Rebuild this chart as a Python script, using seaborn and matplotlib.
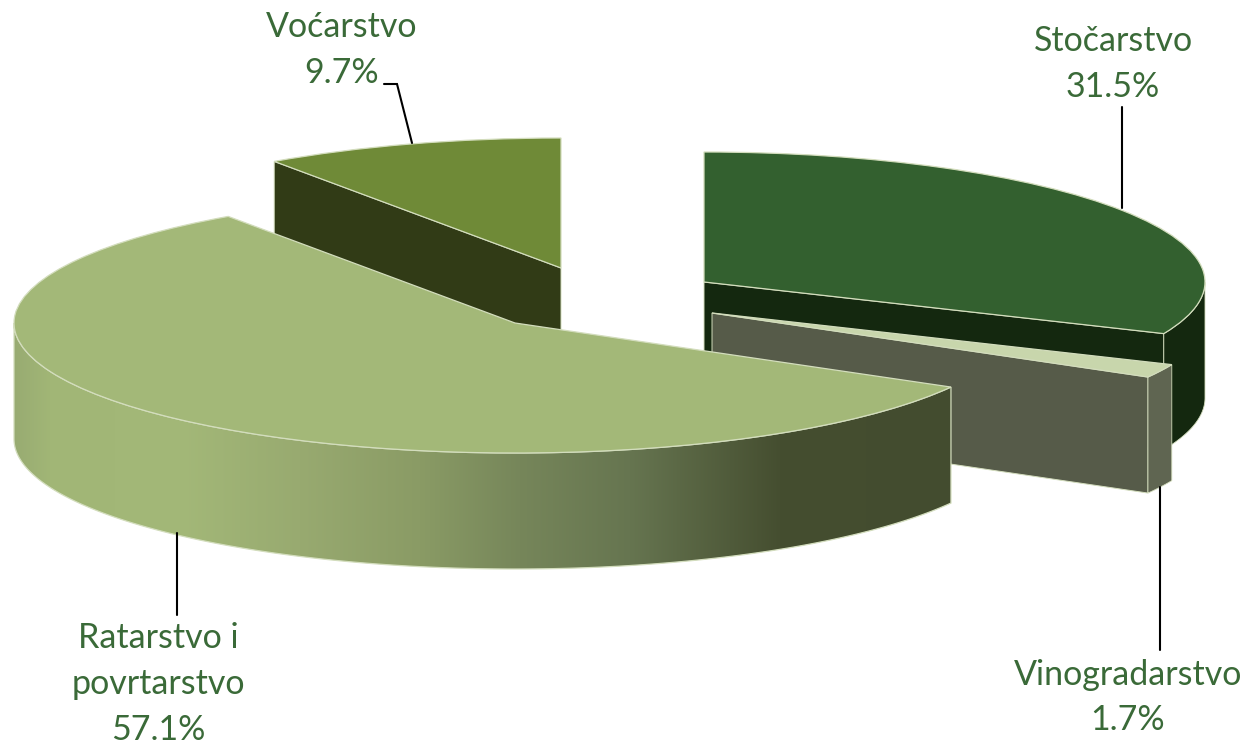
import numpy as np
import matplotlib
matplotlib.use("Agg")
import matplotlib.pyplot as plt
from matplotlib.colors import to_rgb
from matplotlib.patches import Polygon
from matplotlib.transforms import Affine2D
import seaborn as sns

# --- data ---
categories = ["Stočarstvo", "Vinogradarstvo", "Ratarstvo i\npovrtarstvo", "Voćarstvo"]
values = [31.5, 1.7, 57.1, 9.7]
value_labels = ["31.5%", "1.7%", "57.1%", "9.7%"]

# --- style ---
top_colors = ["#33602F", "#C8D6AC", "#A3B878", "#6F8A37"]
radial_colors = ["#14280F", "#565B49", "#444D30", "#313B16"]
outer_colors = ["#14280F", "#5F6551", None, "#313B16"]
centers = [(704, 282), (712, 313), (515, 323), (561, 268)]
RX, RY, DEPTH = 501, 130, 116
EDGE = "#D3DDBD"
TEXT = "#3A6A38"
grad_x = [13, 50, 180, 300, 420, 520, 630, 780, 952]
grad_c = ["#98AB72", "#A1B676", "#A3B878", "#98AA70", "#8A9B65", "#76865A", "#667550", "#454E30", "#434C2F"]
label_pos = [(1113, 41), (1128, 675), (158, 638), (342, 27)]
value_pos = [(1113, 87), (1128, 720), (158, 730), (342, 73)]
leaders = [([1122, 1122], [107, 208]),
           ([1160, 1160], [487, 650]),
           ([177, 177], [533, 615]),
           ([384, 397, 412], [84, 84, 143])]

sns.set_theme(style="white")
plt.rcParams["font.family"] = ["Lato", "DejaVu Sans"]

fig = plt.figure(figsize=(12.48, 7.44), dpi=100, facecolor="white")
ax = fig.add_axes([0, 0, 1, 1])

wedges, _ = ax.pie(values, colors=top_colors, startangle=90, counterclock=False,
                   wedgeprops=dict(edgecolor=EDGE, linewidth=0.9))
ax.set_aspect("auto")
ax.set_xlim(0, 1248)
ax.set_ylim(744, 0)
ax.axis("off")


def rim(cx, cy, th):
    t = np.radians(th)
    return cx + RX * np.cos(t), cy - RY * np.sin(t)


grad_rgb = np.array([to_rgb(c) for c in grad_c])
for i, w in enumerate(wedges):
    cx, cy = centers[i]
    base = 10 * (i == 3) + 20 * (i == 0) + 30 * (i == 1) + 40 * (i == 2)
    w.set_transform(Affine2D().scale(RX, -RY).translate(cx, cy) + ax.transData)
    w.set_zorder(base + 3)
    th1, th2 = w.theta1, w.theta2

    # radial cut faces turned towards the viewer
    faces = []
    if np.sin(np.radians(th1 - 90)) < -1e-6:
        faces.append(th1)
    if np.sin(np.radians(th2 + 90)) < -1e-6:
        faces.append(th2)
    for th in faces:
        x, y = rim(cx, cy, th)
        ax.add_patch(Polygon([(cx, cy), (x, y), (x, y + DEPTH), (cx, cy + DEPTH)],
                             closed=True, facecolor=radial_colors[i], edgecolor=EDGE,
                             linewidth=0.7, zorder=base + 1))

    # outer rim wall, front half only
    ts = np.linspace(th1, th2, 400)
    ts = ts[np.sin(np.radians(ts)) <= 0]
    if ts.size:
        xs, ys = rim(cx, cy, ts)
        verts = np.r_[np.c_[xs, ys], np.c_[xs, ys + DEPTH][::-1]]
        if outer_colors[i] is not None:
            ax.add_patch(Polygon(verts, closed=True, facecolor=outer_colors[i],
                                 edgecolor=EDGE, linewidth=0.6, zorder=base + 2))
        else:
            poly = Polygon(verts, closed=True, facecolor="none", edgecolor=EDGE,
                           linewidth=0.9, zorder=base + 2)
            ax.add_patch(poly)
            gx = np.arange(0, 1248)
            grad = np.stack([np.interp(gx, grad_x, grad_rgb[:, k]) for k in range(3)], axis=-1)[None, :, :]
            im = ax.imshow(grad, extent=(0, 1248, 744, 0), aspect="auto", zorder=base + 1.5,
                           interpolation="bilinear")
            im.set_clip_path(poly)

ax.set_xlim(0, 1248)
ax.set_ylim(744, 0)

for (xs, ys) in leaders:
    ax.plot(xs, ys, color="black", lw=1.5, zorder=60, solid_joinstyle="miter")

FS = 24.5
for cat, val, lp, vp in zip(categories, value_labels, label_pos, value_pos):
    lines = cat.split("\n")
    for k, line in enumerate(lines):
        ax.text(lp[0], lp[1] + 46 * k, line, ha="center", va="center", color=TEXT, fontsize=FS, zorder=70)
    ax.text(vp[0], vp[1], val, ha="center", va="center", color=TEXT, fontsize=FS, zorder=70)

fig.savefig("out.png", dpi=100, facecolor="white")
